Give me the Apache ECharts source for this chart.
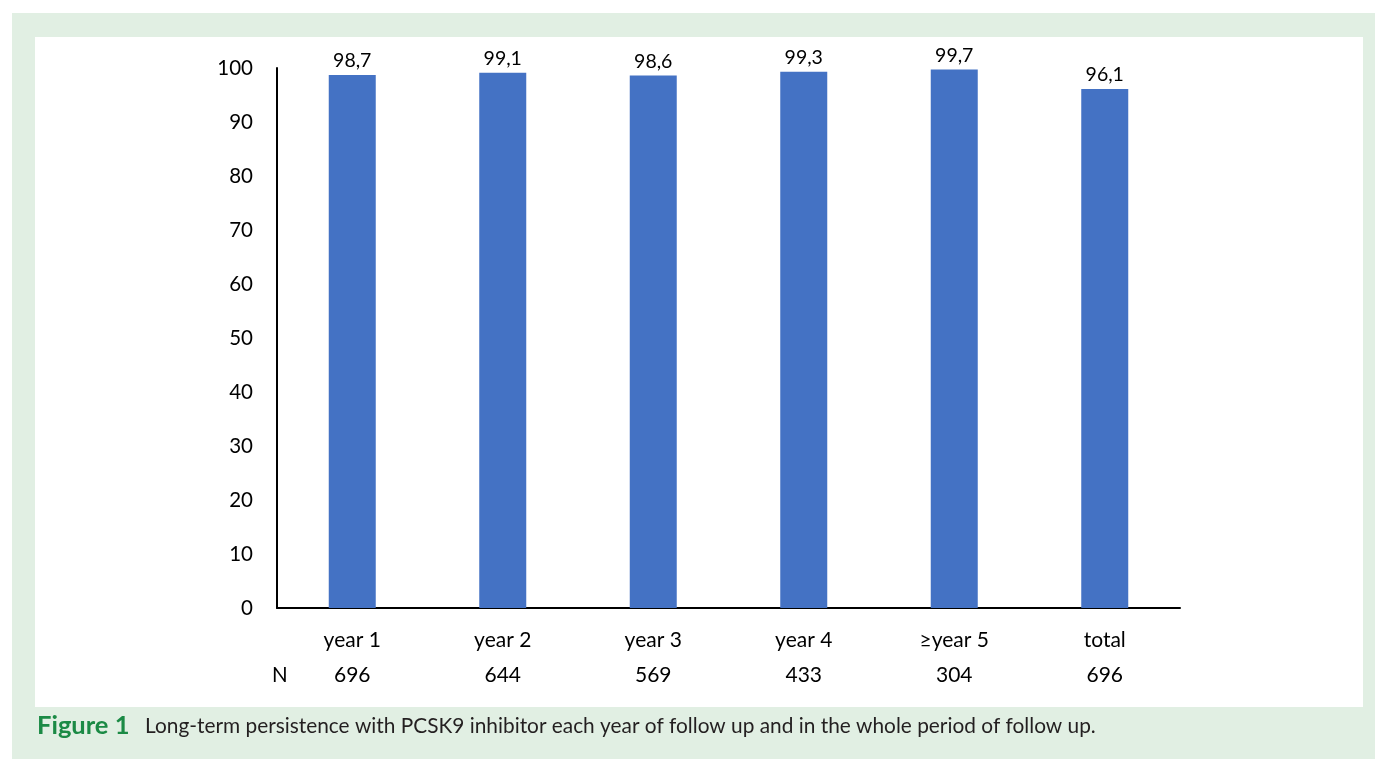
<!DOCTYPE html>
<html>
<head>
<meta charset="utf-8">
<script src="https://cdn.jsdelivr.net/npm/echarts@6/dist/echarts.min.js"></script>
<style>
  html, body { margin: 0; padding: 0; background: #ffffff; }
  #chart { width: 1375px; height: 759px; }
</style>
</head>
<body>
<div id="chart"></div>
<script>
// Persistence with PCSK9 inhibitor per follow-up year
const categories = ['year 1', 'year 2', 'year 3', 'year 4', '\u2265year 5', 'total'];
const persistence = [98.7, 99.1, 98.6, 99.3, 99.7, 96.1];
const patientCounts = [696, 644, 569, 433, 304, 696];
const yTicks = { min: 0, max: 100, step: 10 };

const chart = echarts.init(document.getElementById('chart'), null, { renderer: 'canvas' });
const FONT = 'Lato, "Noto Sans", sans-serif';

chart.setOption({
  animation: false,
  backgroundColor: '#ffffff',
  graphic: [
    { type: 'rect', z: -10, silent: true,
      shape: { x: 12, y: 13, width: 1363, height: 746 },
      style: { fill: '#e1efe3' } },
    { type: 'rect', z: -9, silent: true,
      shape: { x: 35, y: 37, width: 1328, height: 670 },
      style: { fill: '#ffffff' } },
    { type: 'text', left: 272, top: 665,
      style: { text: 'N', font: '20.5px ' + FONT, fill: '#000000' } },
    { type: 'text', left: 37, top: 713,
      style: {
        text: '{b|Figure 1}{t|Long-term persistence with PCSK9 inhibitor each year of follow up and in the whole period of follow up.}',
        rich: {
          b: { fontFamily: FONT, fontWeight: 'bold', fontSize: 25.5, fill: '#1b8a45', width: 108 },
          t: { fontFamily: FONT, fontSize: 20.85, fill: '#231f20' }
        }
      } }
  ],
  grid: { left: 277, right: 195, top: 68, bottom: 151, containLabel: false },
  xAxis: {
    type: 'category',
    data: categories,
    axisLine: { lineStyle: { color: '#000000', width: 2 } },
    axisTick: { show: false },
    axisLabel: {
      margin: 15,
      fontFamily: FONT,
      fontSize: 21,
      color: '#000000',
      lineHeight: 35,
      formatter: (v, i) => v + '\n' + patientCounts[i]
    }
  },
  yAxis: {
    type: 'value',
    min: yTicks.min,
    max: yTicks.max,
    interval: yTicks.step,
    axisLine: { show: true, lineStyle: { color: '#000000', width: 2 } },
    axisTick: { show: false },
    splitLine: { show: false },
    axisLabel: { margin: 24, fontFamily: FONT, fontSize: 20.5, color: '#000000' }
  },
  series: [{
    type: 'bar',
    data: persistence,
    barWidth: 47,
    itemStyle: { color: '#4472c4' },
    label: {
      show: true,
      position: 'top',
      distance: 4,
      fontFamily: FONT,
      fontSize: 19.5,
      color: '#000000',
      formatter: p => String(p.value).replace('.', ',')
    }
  }]
});
</script>
</body>
</html>
